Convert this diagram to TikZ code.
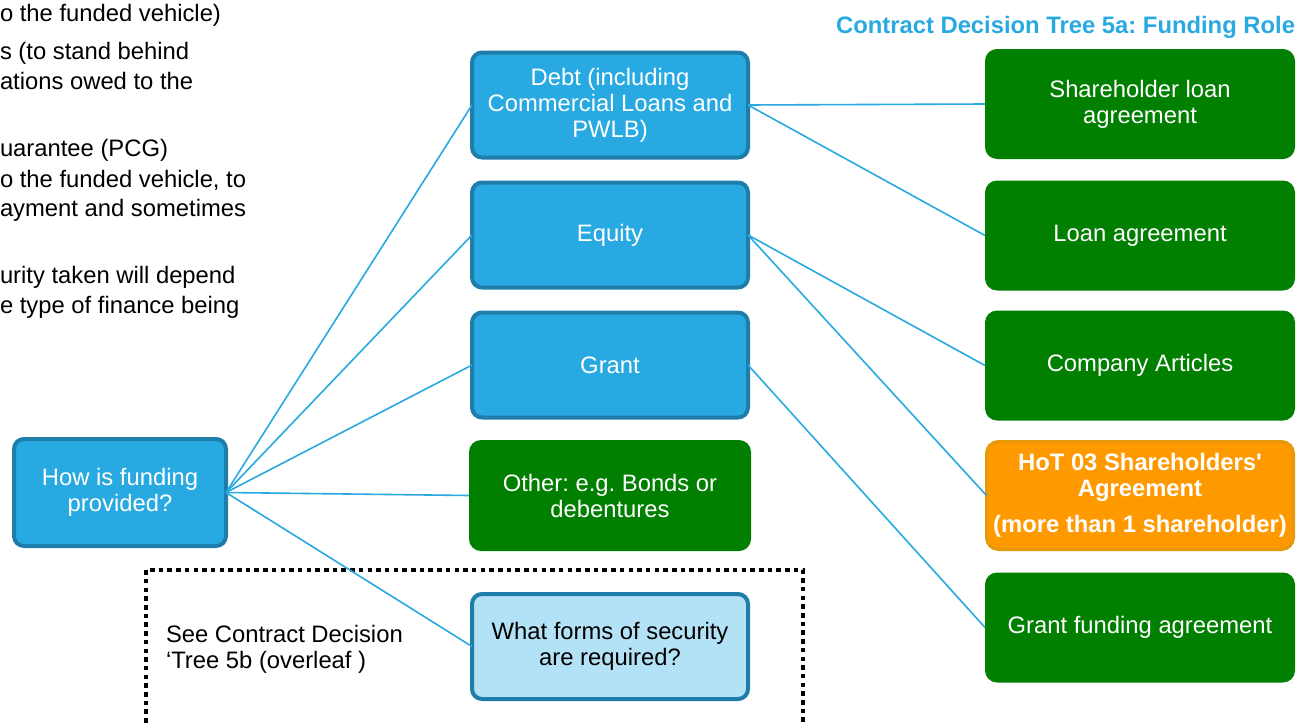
\documentclass[tikz,border=0pt]{standalone}
\usepackage{fontspec}
\setmainfont{Liberation Sans}
\frenchspacing
\definecolor{cblue}{HTML}{29A9E1}
\definecolor{cblueb}{HTML}{1F7DAA}
\definecolor{clight}{HTML}{B3E1F5}
\definecolor{cgreen}{HTML}{007F00}
\definecolor{corange}{HTML}{FF9900}
\definecolor{corangeb}{HTML}{E59A0A}
\begin{document}
\begin{tikzpicture}[x=1pt,y=-1pt,
  every node/.style={font=\fontsize{23.8}{26}\selectfont, inner sep=0pt, outer sep=0pt},
  bluebox/.style={draw=cblueb, line width=4pt, fill=cblue, rounded corners=10pt, text=white, align=center, minimum width=276pt, minimum height=105pt},
  lightbox/.style={bluebox, fill=clight, text=black},
  greenbox/.style={fill=cgreen, rounded corners=12pt, text=white, align=center, minimum width=282pt, minimum height=111pt},
  rbox/.style={greenbox, minimum width=310pt, minimum height=110pt},
  orangebox/.style={draw=corangeb, line width=3pt, fill=corange, rounded corners=12pt, text=white, align=center, minimum width=307pt, minimum height=108pt, font=\fontsize{23.8}{26}\selectfont\bfseries},
  link/.style={draw=cblue, line width=1.6pt},
  sidetext/.style={anchor=base west, text=black},
  dotline/.style={draw=black, line width=4.5pt, dash pattern=on 4.5pt off 4.2pt}
]
\useasboundingbox (0,0) rectangle (1297,723);

% side text (cut off at left edge)
\node[sidetext] (s1) at (0,21) {o the funded vehicle)};
\node[sidetext] (s2) at (0,59) {s (to stand behind};
\node[sidetext] (s3) at (0,89) {ations owed to the};
\node[sidetext] (s4) at (0,156) {uarantee (PCG)};
\node[sidetext] (s5) at (0,187) {o the funded vehicle, to};
\node[sidetext] (s6) at (0,216) {ayment and sometimes};
\node[sidetext] (s7) at (0,283) {urity taken will depend};
\node[sidetext] (s8) at (0,313) {e type of finance being};

% title
\node[anchor=base east, text=cblue, font=\fontsize{23.8}{26}\selectfont\bfseries] (title) at (1295,33) {Contract Decision Tree 5a: Funding Role};

% dotted frame
\coordinate (f1) at (146,740);
\coordinate (f2) at (146,570);
\coordinate (f3) at (803,570);
\coordinate (f4) at (803,740);
\draw[dotline] (f1) -- (f2) -- (f3) -- (f4);
\node[anchor=west, align=left, text=black] (see) at (166,649.5) {See Contract Decision\\‘Tree 5b (overleaf )};

% nodes
\node[bluebox, minimum width=212pt, minimum height=107pt] (how) at (120,492.5) {How is funding\\provided?};
\node[bluebox] (debt) at (610,105) {Debt (including\\Commercial Loans and\\PWLB)};
\node[bluebox] (equity) at (610,235) {Equity};
\node[bluebox] (grant) at (610,365) {Grant};
\node[greenbox] (other) at (610,495.5) {Other: e.g. Bonds or\\debentures};
\node[lightbox] (security) at (610,646.5) {What forms of security\\are required?};

\node[rbox] (shloan) at (1140,104) {Shareholder loan\\agreement};
\node[rbox] (loan) at (1140,235.5) {Loan agreement};
\node[rbox] (articles) at (1140,365.5) {Company Articles};
\node[orangebox] (hot) at (1140,495.5) {HoT 03 Shareholders\textquotesingle\\Agreement\\[10pt](more than 1 shareholder)};
\node[rbox] (gfa) at (1140,627.5) {Grant funding agreement};

% connectors
\draw[link] (how.east) -- (debt.west);
\draw[link] (how.east) -- (equity.west);
\draw[link] (how.east) -- (grant.west);
\draw[link] (how.east) -- (other.west);
\draw[link] (how.east) -- (security.west);
\draw[link] (debt.east) -- (shloan.west);
\draw[link] (debt.east) -- (loan.west);
\draw[link] (equity.east) -- (articles.west);
\draw[link] (equity.east) -- (hot.west);
\draw[link] (grant.east) -- (gfa.west);
\end{tikzpicture}
\end{document}
